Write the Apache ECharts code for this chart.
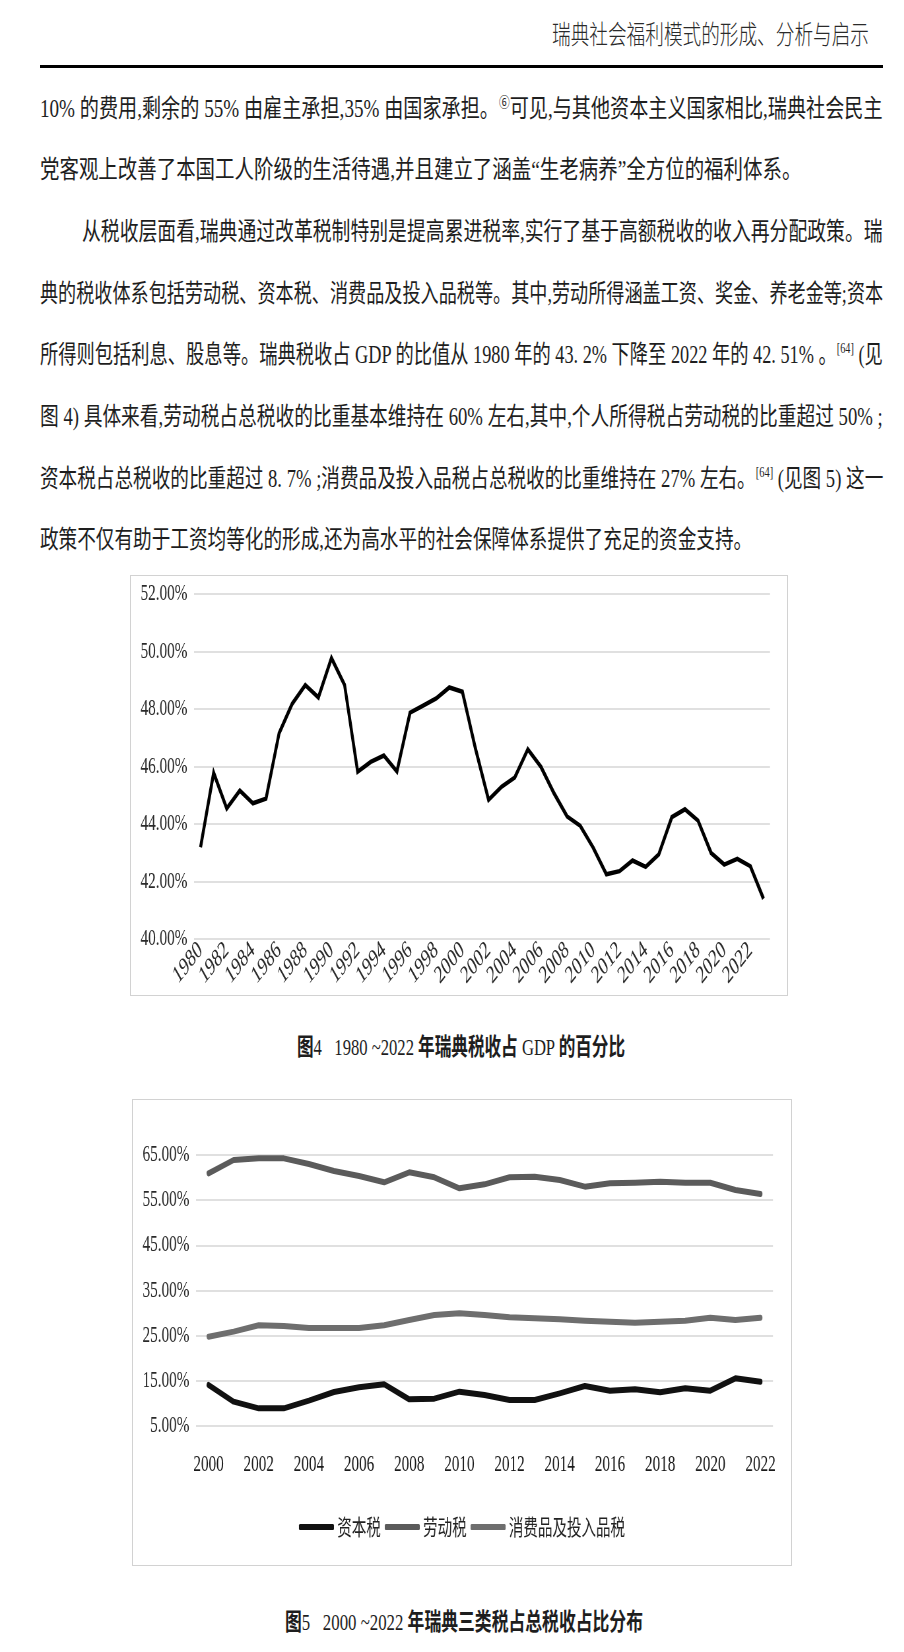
<!DOCTYPE html>
<html><head><meta charset="utf-8">
<script src="https://cdn.jsdelivr.net/npm/echarts@6/dist/echarts.min.js"></script>
<style>
html,body{margin:0;padding:0;background:#fff;}
body{width:904px;height:1652px;position:relative;overflow:hidden;font-family:"Liberation Serif","Noto Sans CJK SC",serif;color:#1e1e1e;}
.ln{position:absolute;white-space:nowrap;transform-origin:0 50%;font-size:25px;line-height:30px;height:30px;}
.ln sup{font-size:14px;vertical-align:0;position:relative;top:-10px;}
.cap{font-size:24px;}
.cap b{font-family:"Noto Sans CJK SC";font-weight:700;}
.head{font-family:"Noto Sans CJK SC";font-weight:300;font-size:26px;color:#2a2a2a;}
.rule{position:absolute;left:40px;top:65px;width:843px;height:3px;background:#000;}
.box{position:absolute;border:1.5px solid #d2d2d2;box-sizing:border-box;overflow:hidden;}
.inner{position:absolute;left:-1.5px;top:-1.5px;transform-origin:0 0;}
</style></head>
<body>
<div class="ln head" data-w="317" style="left:552px;top:18px;">瑞典社会福利模式的形成、分析与启示</div>
<div class="rule"></div>

<div class="ln" data-w="843" style="left:40px;top:94px;">10% 的费用,剩余的 55% 由雇主承担,35% 由国家承担。<sup>⑥</sup>可见,与其他资本主义国家相比,瑞典社会民主</div>
<div class="ln" data-w="761" style="left:40px;top:155px;">党客观上改善了本国工人阶级的生活待遇,并且建立了涵盖“生老病养”全方位的福利体系。</div>
<div class="ln" data-w="801" style="left:82px;top:217px;">从税收层面看,瑞典通过改革税制特别是提高累进税率,实行了基于高额税收的收入再分配政策。瑞</div>
<div class="ln" data-w="843" style="left:40px;top:279px;">典的税收体系包括劳动税、资本税、消费品及投入品税等。其中,劳动所得涵盖工资、奖金、养老金等;资本</div>
<div class="ln" data-w="843" style="left:40px;top:340px;">所得则包括利息、股息等。瑞典税收占 GDP 的比值从 1980 年的 43. 2% 下降至 2022 年的 42. 51% 。<sup>[64]</sup> (见</div>
<div class="ln" data-w="843" style="left:40px;top:402px;">图 4) 具体来看,劳动税占总税收的比重基本维持在 60% 左右,其中,个人所得税占劳动税的比重超过 50% ;</div>
<div class="ln" data-w="843" style="left:40px;top:464px;">资本税占总税收的比重超过 8. 7% ;消费品及投入品税占总税收的比重维持在 27% 左右。<sup>[64]</sup> (见图 5) 这一</div>
<div class="ln" data-w="712" style="left:40px;top:525px;">政策不仅有助于工资均等化的形成,还为高水平的社会保障体系提供了充足的资金支持。</div>

<div class="box" style="left:130px;top:575px;width:658px;height:421px;"><div class="inner" id="c1"></div></div>
<div class="ln cap" data-w="328" style="left:297px;top:1030px;"><b>图</b>4&nbsp;&nbsp;&nbsp;1980 ~2022 <b>年瑞典税收占</b> GDP <b>的百分比</b></div>

<div class="box" style="left:132px;top:1099px;width:660px;height:467px;"><div class="inner" id="c2"></div></div>
<div class="ln cap" data-w="358" style="left:285px;top:1605px;"><b>图</b>5&nbsp;&nbsp;&nbsp;2000 ~2022 <b>年瑞典三类税占总税收占比分布</b></div>

<script>
// ---------- data ----------
const years1 = ['1980','1981','1982','1983','1984','1985','1986','1987','1988','1989',
  '1990','1991','1992','1993','1994','1995','1996','1997','1998','1999',
  '2000','2001','2002','2003','2004','2005','2006','2007','2008','2009',
  '2010','2011','2012','2013','2014','2015','2016','2017','2018','2019',
  '2020','2021','2022','2023'];
const taxGdpShare = [43.19,45.78,44.54,45.16,44.72,44.88,47.16,48.18,48.83,48.40,
  49.77,48.84,45.82,46.16,46.38,45.83,47.87,48.12,48.37,48.75,
  48.60,46.62,44.84,45.30,45.62,46.60,45.99,45.07,44.26,43.94,
  43.17,42.25,42.36,42.73,42.51,42.94,44.24,44.51,44.12,42.99,
  42.59,42.79,42.53,41.40];

const years2 = ['2000','2001','2002','2003','2004','2005','2006','2007','2008','2009',
  '2010','2011','2012','2013','2014','2015','2016','2017','2018','2019',
  '2020','2021','2022'];
const seriesNames = ['资本税','劳动税','消费品及投入品税'];
const capitalTax = [14.08,10.39,8.91,8.91,10.61,12.53,13.56,14.23,10.90,11.05,
  12.60,11.86,10.76,10.76,12.23,13.86,12.82,13.12,12.45,13.34,
  12.82,15.55,14.80];
const laborTax = [60.94,63.90,64.26,64.26,63.00,61.46,60.35,58.95,61.16,60.06,
  57.62,58.50,60.06,60.20,59.46,57.99,58.73,58.87,59.10,58.87,
  58.87,57.25,56.37];
const consumptionTax = [24.78,25.89,27.29,27.15,26.70,26.70,26.70,27.29,28.47,29.58,
  29.94,29.58,29.06,28.84,28.62,28.32,28.10,27.88,28.10,28.32,
  28.99,28.47,28.99];

// ---------- layout helpers ----------
const S = 0.66; // horizontal condensation of the scanned page
function fitLines(){
  document.querySelectorAll('[data-w]').forEach(el=>{
    el.style.transform='none';
    const w = el.offsetWidth;
    el.style.transform='scaleX(' + (+el.dataset.w / w) + ')';
  });
}
fitLines();
if (document.fonts && document.fonts.ready) document.fonts.ready.then(fitLines);

function makeChart(id, boxW, boxH){
  const el = document.getElementById(id);
  el.style.width = (boxW / S) + 'px';
  el.style.height = boxH + 'px';
  el.style.transform = 'scaleX(' + S + ')';
  return echarts.init(el, null, {renderer:'canvas'});
}
const latin = 'Liberation Serif';
const pct = v => v.toFixed(2) + '%';

// ---------- chart 1 ----------
const c1 = makeChart('c1', 658, 421);
c1.setOption({
  animation:false,
  grid:{left:64/S, right:18/S, top:19, bottom:57},
  xAxis:{type:'category', data:years1, boundaryGap:true,
    axisLine:{show:false}, axisTick:{show:false},
    axisLabel:{interval:1, rotate:40, fontFamily:latin, fontSize:25, color:'#2a2a2a', margin:8}},
  yAxis:{type:'value', min:40, max:52, interval:2,
    axisLine:{show:false}, axisTick:{show:false},
    splitLine:{lineStyle:{color:'#d6d6d6', width:1.5}},
    axisLabel:{formatter:pct, fontFamily:latin, fontSize:23, color:'#2a2a2a', margin:10}},
  series:[{type:'line', data:taxGdpShare, symbol:'none',
    lineStyle:{color:'#000', width:4.5, join:'miter'}, itemStyle:{color:'#000'}}]
});

// ---------- chart 2 ----------
const c2 = makeChart('c2', 660, 467);
const colors2 = ['#111111','#5b5b5b','#6e6e6e'];
const data2 = [capitalTax, laborTax, consumptionTax];
c2.setOption({
  animation:false,
  color:colors2,
  legend:{data:seriesNames, left:'center', top:410, icon:'roundRect',
    itemWidth:35/S, itemHeight:6, itemGap:6,
    textStyle:{fontFamily:'Noto Sans CJK SC', fontSize:22, color:'#222', lineHeight:26}},
  grid:{left:64/S, right:19/S, top:56, bottom:140},
  xAxis:{type:'category', data:years2, boundaryGap:true,
    axisLine:{show:false}, axisTick:{show:false},
    axisLabel:{interval:1, fontFamily:latin, fontSize:23, color:'#1a1a1a', margin:27}},
  yAxis:{type:'value', min:5, max:65, interval:10,
    axisLine:{show:false}, axisTick:{show:false},
    splitLine:{lineStyle:{color:'#d6d6d6', width:1.5}},
    axisLabel:{formatter:pct, fontFamily:latin, fontSize:23, color:'#2a2a2a', margin:10}},
  series: seriesNames.map((n,i)=>({name:n, type:'line', data:data2[i], symbol:'none',
    lineStyle:{color:colors2[i], width:6, cap:'round', join:'round'}, itemStyle:{color:colors2[i]}}))
});
</script>
</body></html>
